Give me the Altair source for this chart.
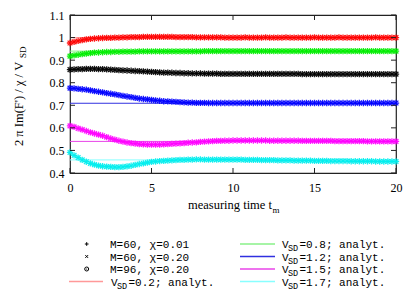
import altair as alt
import pandas as pd

# ---------------- data ----------------
t_vals = [i * 0.25 for i in range(81)]  # measuring time grid 0..20

red = [0.976, 0.981, 0.985, 0.989, 0.992, 0.994, 0.996, 0.997, 0.998,
       0.999, 0.999, 1.000, 1.000, 1.001, 1.001, 1.002, 1.002,
       1.002, 1.003, 1.003, 1.003, 1.003, 1.003, 1.003, 1.003,
       1.003, 1.002, 1.002, 1.002, 1.002, 1.002, 1.001, 1.001,
       1.001, 1.001, 1.001, 1.001, 1.001, 1.000, 1.000, 1.000,
       1.000, 1.000, 1.001, 1.000, 1.000, 1.000, 1.000, 1.001,
       1.000, 1.000, 1.000, 1.000, 1.001, 1.000, 1.000, 1.000,
       1.000, 1.000, 1.000, 1.001, 1.000, 1.000, 1.000, 1.000,
       1.000, 1.001, 1.000, 1.000, 1.000, 1.000, 1.000, 1.000,
       1.000, 1.000, 1.001, 1.000, 1.000, 1.000, 1.000, 1.000]

green = [0.918, 0.921, 0.924, 0.927, 0.929, 0.931, 0.933, 0.934, 0.935,
         0.936, 0.936, 0.937, 0.937, 0.938, 0.938, 0.938, 0.938,
         0.939, 0.939, 0.939, 0.939, 0.939, 0.939, 0.939, 0.939,
         0.939, 0.939, 0.939, 0.939, 0.939, 0.939, 0.939, 0.939,
         0.940, 0.940, 0.940, 0.940, 0.940, 0.940, 0.940, 0.940,
         0.940, 0.940, 0.940, 0.940, 0.940, 0.940, 0.940, 0.940,
         0.940, 0.940, 0.940, 0.940, 0.940, 0.940, 0.940, 0.940,
         0.940, 0.940, 0.940, 0.940, 0.940, 0.940, 0.940, 0.940,
         0.940, 0.940, 0.940, 0.940, 0.940, 0.940, 0.940, 0.940,
         0.940, 0.940, 0.940, 0.940, 0.940, 0.940, 0.940, 0.940]

black = [0.858, 0.859, 0.860, 0.860, 0.861, 0.861, 0.861, 0.860, 0.860,
         0.859, 0.858, 0.857, 0.856, 0.855, 0.854, 0.853, 0.852,
         0.851, 0.850, 0.849, 0.848, 0.847, 0.846, 0.845, 0.845,
         0.844, 0.843, 0.843, 0.842, 0.842, 0.841, 0.841, 0.841,
         0.840, 0.840, 0.840, 0.840, 0.839, 0.839, 0.839, 0.839,
         0.839, 0.839, 0.839, 0.839, 0.839, 0.839, 0.839, 0.839,
         0.839, 0.839, 0.839, 0.839, 0.839, 0.839, 0.839, 0.839,
         0.838, 0.838, 0.838, 0.838, 0.838, 0.838, 0.838, 0.838,
         0.838, 0.838, 0.838, 0.838, 0.838, 0.838, 0.838, 0.838,
         0.838, 0.838, 0.838, 0.838, 0.838, 0.838, 0.838, 0.838]

blue = [0.776, 0.775, 0.773, 0.771, 0.769, 0.766, 0.763, 0.760, 0.757,
        0.754, 0.751, 0.748, 0.745, 0.742, 0.739, 0.736, 0.733,
        0.730, 0.728, 0.726, 0.724, 0.722, 0.720, 0.718, 0.717,
        0.716, 0.715, 0.714, 0.713, 0.712, 0.712, 0.711, 0.711,
        0.711, 0.710, 0.710, 0.710, 0.710, 0.710, 0.710, 0.710,
        0.710, 0.710, 0.710, 0.710, 0.710, 0.710, 0.710, 0.710,
        0.710, 0.710, 0.710, 0.710, 0.710, 0.710, 0.710, 0.710,
        0.710, 0.710, 0.710, 0.710, 0.710, 0.710, 0.710, 0.710,
        0.710, 0.710, 0.710, 0.710, 0.710, 0.710, 0.710, 0.710,
        0.710, 0.710, 0.710, 0.710, 0.710, 0.710, 0.710, 0.710]

magenta = [0.609, 0.604, 0.598, 0.592, 0.586, 0.580, 0.575, 0.570, 0.565,
           0.559, 0.553, 0.548, 0.543, 0.539, 0.535, 0.532, 0.530,
           0.528, 0.527, 0.526, 0.526, 0.526, 0.526, 0.527, 0.528,
           0.529, 0.530, 0.531, 0.532, 0.534, 0.535, 0.536, 0.538,
           0.539, 0.540, 0.541, 0.542, 0.542, 0.543, 0.543, 0.544,
           0.544, 0.544, 0.544, 0.544, 0.544, 0.544, 0.544, 0.544,
           0.543, 0.543, 0.543, 0.543, 0.543, 0.543, 0.543, 0.543,
           0.542, 0.542, 0.542, 0.542, 0.542, 0.542, 0.542, 0.542,
           0.541, 0.541, 0.541, 0.541, 0.541, 0.541, 0.541, 0.541,
           0.540, 0.540, 0.540, 0.540, 0.540, 0.540, 0.540, 0.540]

cyan = [0.491, 0.478, 0.468, 0.458, 0.450, 0.443, 0.437, 0.433, 0.430,
        0.428, 0.427, 0.426, 0.426, 0.427, 0.429, 0.432, 0.436,
        0.440, 0.443, 0.446, 0.449, 0.451, 0.453, 0.454, 0.455,
        0.456, 0.457, 0.458, 0.458, 0.459, 0.459, 0.460, 0.460,
        0.459, 0.459, 0.459, 0.459, 0.459, 0.459, 0.459, 0.459,
        0.459, 0.459, 0.458, 0.458, 0.458, 0.458, 0.457, 0.457,
        0.457, 0.457, 0.456, 0.456, 0.456, 0.456, 0.455, 0.455,
        0.455, 0.455, 0.455, 0.454, 0.454, 0.454, 0.454, 0.453,
        0.453, 0.453, 0.453, 0.453, 0.452, 0.452, 0.452, 0.452,
        0.452, 0.452, 0.451, 0.451, 0.451, 0.451, 0.451, 0.451]

series_values = [red, green, black, blue, magenta, cyan]
series_colors = ["#ff0000", "#00ee00", "#000000", "#0000ff", "#ff00ff", "#00eeee"]

analyt_vsd = ["0.2", "0.8", "1.2", "1.5", "1.7"]
analyt_values = [1.000, 0.940, 0.709, 0.540, 0.458]
analyt_colors = ["#ff9999", "#88f088", "#3030e0", "#e844e8", "#88ffff"]

marker_labels = ["M=60, χ=0.01", "M=60, χ=0.20", "M=96, χ=0.20"]

x_ticks = [0, 5, 10, 15, 20]
y_ticks = [0.4, 0.5, 0.6, 0.7, 0.8, 0.9, 1.0, 1.1]

# ---------------- tables ----------------
rows = []
for vals, col in zip(series_values, series_colors):
    for t, v in zip(t_vals, vals):
        rows.append({"t": t, "v": v, "col": col})
pts = pd.DataFrame(rows)

ana = pd.DataFrame({"v": analyt_values, "col": analyt_colors,
                    "t0": [0] * 5, "t1": [20] * 5})

W, H = 326, 158
xs = alt.Scale(domain=[0, 20], nice=False, zero=False)
ys = alt.Scale(domain=[0.4, 1.1], nice=False, zero=False)
SERIF = "Liberation Serif"
MONO = "Liberation Mono"

PLUS = "M-1,0L1,0M0,-1L0,1"
CROSS = "M-0.75,-0.75L0.75,0.75M-0.75,0.75L0.75,-0.75"

axis_x = alt.Axis(values=x_ticks, ticks=False, domain=False, grid=False,
                  labelFont=SERIF, labelFontSize=12, labelColor="#000",
                  labelPadding=9, title=None, labelFlush=False, labelOverlap=False)
axis_y = alt.Axis(values=y_ticks, ticks=False, domain=False, grid=False,
                  labelFont=SERIF, labelFontSize=12, labelColor="#000",
                  labelPadding=6, title=None, format="~g", labelOverlap=False,
                  labelFlush=False)


def X(field):
    return alt.X(field, scale=xs, axis=axis_x)


def Y(field):
    return alt.Y(field, scale=ys, axis=axis_y)


lines = alt.Chart(ana).mark_rule(strokeWidth=1).encode(
    x=X("t0:Q"), x2="t1:Q", y=Y("v:Q"),
    color=alt.Color("col:N", scale=None))

base_pts = alt.Chart(pts).encode(
    x=X("t:Q"), y=Y("v:Q"), color=alt.Color("col:N", scale=None))
p1 = base_pts.mark_point(shape=PLUS, size=40, strokeWidth=1.3, filled=False, opacity=0.9)
p2 = base_pts.mark_point(shape=CROSS, size=40, strokeWidth=1.3, filled=False, opacity=0.9)

# inward ticks (gnuplot style, mirrored)
xt = pd.DataFrame({"t": x_ticks})
yt = pd.DataFrame({"v": y_ticks})
tick_style = dict(color="#222", strokeWidth=1)
xb = alt.Chart(xt).mark_rule(**tick_style).encode(
    x=X("t:Q"), y=alt.value(H), y2=alt.value(H - 5))
xtop = alt.Chart(xt).mark_rule(**tick_style).encode(
    x=X("t:Q"), y=alt.value(0), y2=alt.value(5))
yl = alt.Chart(yt).mark_rule(**tick_style).encode(
    y=Y("v:Q"), x=alt.value(0), x2=alt.value(5))
yr = alt.Chart(yt).mark_rule(**tick_style).encode(
    y=Y("v:Q"), x=alt.value(W), x2=alt.value(W - 5))

one = alt.Data(values=[{"a": 1}])


def txt(s, x, y, size, font, align="left", baseline="alphabetic", angle=0):
    kw = dict(align=align, baseline=baseline, font=font, fontSize=size, color="#000")
    if angle:
        kw["angle"] = angle
    return alt.Chart(one).mark_text(**kw).encode(
        x=alt.value(x), y=alt.value(y), text=alt.value(s))


def seg(x1, x2, y, col, w=1.5):
    return alt.Chart(one).mark_rule(color=col, strokeWidth=w).encode(
        x=alt.value(x1), x2=alt.value(x2), y=alt.value(y))


def sym(shape, x, y, size, filled=False, w=1):
    return alt.Chart(one).mark_point(shape=shape, size=size, filled=filled,
                                     strokeWidth=w, color="#000", opacity=1).encode(
        x=alt.value(x), y=alt.value(y))


layers = [lines, p1, p2, xb, xtop, yl, yr]

# axis titles with subscripts
layers.append(txt("measuring time t", 202, 194, 12.5, SERIF, align="right"))
layers.append(txt("m", 202.5, 197.5, 9, SERIF))
layers.append(txt("2 π Im(F') / χ / V", -47, 131, 12.5, SERIF, angle=270))
layers.append(txt("SD", -44, 43, 9, SERIF, angle=270))

# legend
row_y = [229, 241.5, 254, 266.5]
LFS = 11
# column 1: markers
for i, lab in enumerate(marker_labels):
    layers.append(txt(lab, 40, row_y[i] + 4, LFS, MONO))
layers.append(sym(PLUS, 16.7, row_y[0], 14))
layers.append(sym(CROSS, 16.7, row_y[1], 14))
layers.append(sym("circle", 16.7, row_y[2], 16))
layers.append(sym("circle", 16.7, row_y[2], 1.5, filled=True))


def vsd_entry(k, lx1, lx2, tx, y):
    out = [seg(lx1, lx2, y, analyt_colors[k])]
    out.append(txt("V", tx, y + 4, LFS, MONO))
    out.append(txt("SD", tx + 6, y + 7, 8.5, MONO))
    out.append(txt("=" + analyt_vsd[k] + "; analyt.", tx + 17.5, y + 4, LFS, MONO))
    return out


layers += vsd_entry(0, -1, 33, 41, row_y[3])
for k in range(1, 5):
    layers += vsd_entry(k, 170, 205, 212, row_y[k - 1])

chart = alt.layer(*layers).properties(
    width=W, height=H,
    autosize=alt.AutoSizeParams(type="none"),
    padding={"left": 62, "top": 7, "right": 11, "bottom": 125},
).configure_view(stroke="#222", strokeWidth=1.2)

chart.save("out.html", embed_options={"renderer": "svg", "actions": False})
